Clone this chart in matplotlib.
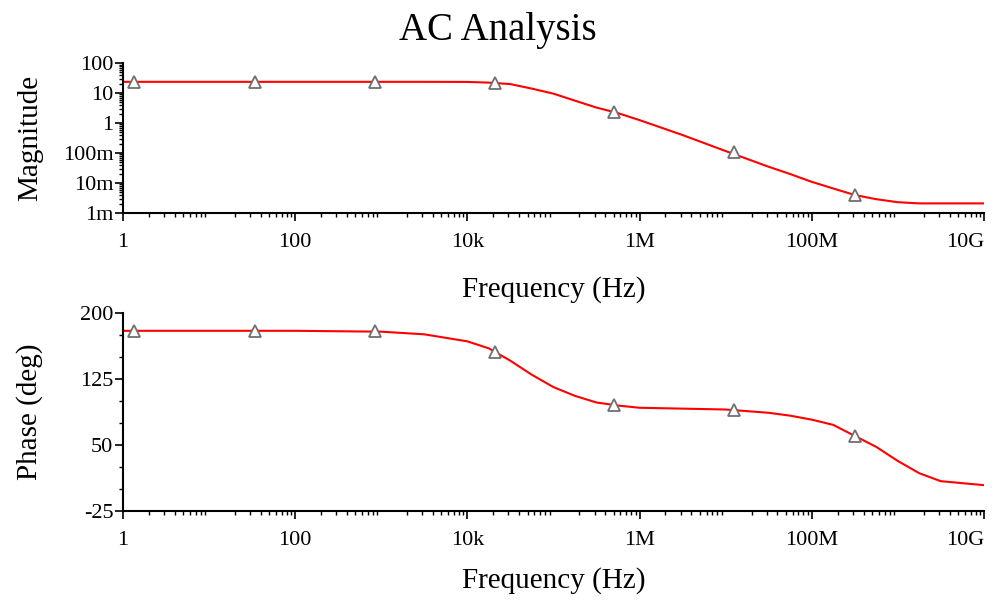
import numpy as np
import matplotlib
matplotlib.use('Agg')
import matplotlib.pyplot as plt
from matplotlib.ticker import LogLocator, MultipleLocator, NullFormatter

plt.rcParams['font.family'] = ['Liberation Serif', 'DejaVu Serif']
plt.rcParams['axes.unicode_minus'] = False

# values
freq = [1, 10, 100, 1e3, 3.16e3, 1e4, 1.78e4, 3.16e4, 5.62e4, 1e5, 1.78e5,
        3.16e5, 5.62e5, 1e6, 3.16e6, 1e7, 3.16e7, 5.62e7, 1e8, 1.78e8,
        3.16e8, 5.62e8, 1e9, 1.78e9, 3.16e9, 1e10]
magnitude = [23.8, 23.8, 23.8, 23.8, 23.8, 23.6, 22.4, 20.0, 14.1, 9.6, 5.6,
             3.3, 2.15, 1.26, 0.40, 0.117, 0.035, 0.020, 0.011, 0.0066,
             0.0040, 0.0029, 0.0023, 0.0021, 0.0021, 0.0021]
phase = [180, 180, 180, 179, 176, 168, 160, 146, 130, 116, 106,
         98.5, 95, 92.5, 91.5, 90.5, 86.8, 83.5, 79, 73,
         60.5, 48, 32, 18, 9, 4.5]

# triangle markers
marker_freq = [1.35, 34, 850, 2.1e4, 5.1e5, 1.26e7, 3.16e8]
marker_mag = [23.8, 23.8, 23.8, 22.3, 2.3, 0.11, 0.004]
marker_phase = [180, 180, 179.5, 156, 95.5, 90.5, 60]

x_ticks = [1, 1e2, 1e4, 1e6, 1e8, 1e10]
x_labels = ['1', '100', '10k', '1M', '100M', '10G']
mag_ticks = [1e-3, 1e-2, 1e-1, 1, 10, 100]
mag_labels = ['1m', '10m', '100m', '1', '10', '100']
phase_ticks = [-25, 50, 125, 200]
phase_labels = ['-25', '50', '125', '200']


fig = plt.figure(figsize=(9.95, 6.07), dpi=100)
ax1 = fig.add_axes([0.1236, 0.649, 0.8653, 0.247])
ax2 = fig.add_axes([0.1236, 0.158, 0.8653, 0.326])

fig.text(0.5, 0.950, 'AC Analysis', ha='center', va='center', fontsize=28)


def style_axis(ax, xlabel_y):
    ax.set_xscale('log')
    ax.set_xlim(1, 1e10)
    ax.spines['top'].set_visible(False)
    ax.spines['right'].set_visible(False)
    ax.spines['left'].set_linewidth(1.5)
    ax.spines['bottom'].set_linewidth(1.5)
    ax.xaxis.set_minor_locator(LogLocator(base=10, subs=np.arange(2, 10), numticks=100))
    ax.xaxis.set_minor_formatter(NullFormatter())
    ax.set_xticks(x_ticks)
    ax.set_xticklabels(x_labels)
    ax.get_xticklabels()[-1].set_horizontalalignment('right')
    ax.tick_params(which='major', length=6, width=1.2, labelsize=16, pad=8)
    ax.tick_params(which='minor', length=3, width=1)
    ax.set_xlabel('Frequency (Hz)', fontsize=21, va='center')
    ax.xaxis.set_label_coords(0.5, xlabel_y)


# magnitude
ax1.plot(freq, magnitude, color='red', lw=1.5)
ax1.plot(marker_freq, marker_mag, ls='none', marker='^', ms=8,
         mfc='white', mec='#707070', mew=1.3)
style_axis(ax1, -0.51)
ax1.set_yscale('log')
ax1.set_ylim(1e-3, 100)
ax1.set_yticks(mag_ticks)
ax1.set_yticklabels(mag_labels)
ax1.yaxis.set_minor_locator(LogLocator(base=10, subs=np.arange(2, 10), numticks=100))
ax1.yaxis.set_minor_formatter(NullFormatter())
ax1.tick_params(axis='y', which='major', pad=1)
ax1.set_ylabel('Magnitude', fontsize=21, va='center')
ax1.yaxis.set_label_coords(-0.108, 0.5)

# phase
ax2.plot(freq, phase, color='red', lw=1.5)
ax2.plot(marker_freq, marker_phase, ls='none', marker='^', ms=8,
         mfc='white', mec='#707070', mew=1.3)
style_axis(ax2, -0.35)
ax2.set_ylim(-25, 200)
ax2.set_yticks(phase_ticks)
ax2.set_yticklabels(phase_labels)
ax2.yaxis.set_minor_locator(MultipleLocator(25))
ax2.tick_params(axis='y', which='major', pad=1)
ax2.set_ylabel('Phase (deg)', fontsize=21, va='center')
ax2.yaxis.set_label_coords(-0.108, 0.5)

fig.savefig('out.png', dpi=100)
